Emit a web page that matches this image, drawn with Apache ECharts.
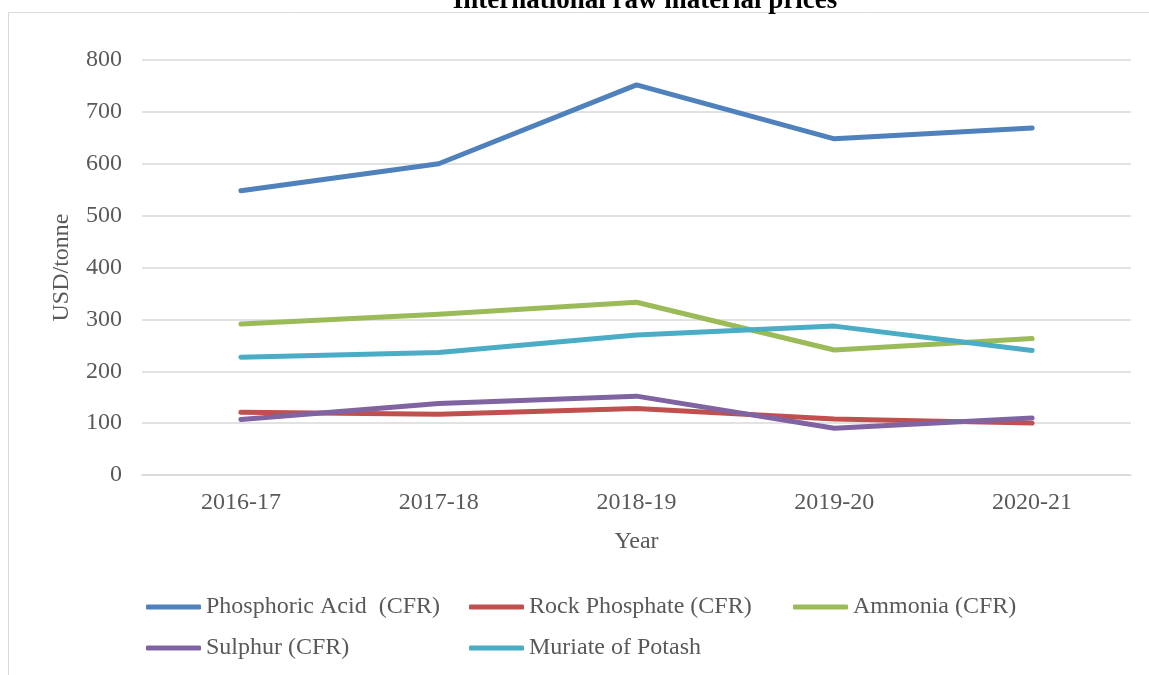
<!DOCTYPE html>
<html>
<head>
<meta charset="utf-8">
<title>International raw material prices</title>
<script src="https://cdn.jsdelivr.net/npm/echarts@6/dist/echarts.min.js"></script>
<style>
  html, body { margin: 0; padding: 0; background: #fff; }
  #chart { width: 1149px; height: 675px; }
</style>
</head>
<body>
<div id="chart"></div>
<script>
// chart data
var years = ['2016-17', '2017-18', '2018-19', '2019-20', '2020-21'];
var phosphoricAcid = [548, 600, 752, 648, 669];
var rockPhosphate = [121, 117, 128, 108, 100];
var ammonia = [291, 310, 333, 241, 263];
var sulphur = [107, 138, 152, 90, 110];
var muriateOfPotash = [227, 236, 270, 287, 240];

var seriesNames = ['Phosphoric Acid  (CFR)', 'Rock Phosphate (CFR)', 'Ammonia (CFR)',
                   'Sulphur (CFR)', 'Muriate of Potash'];
var seriesData = [phosphoricAcid, rockPhosphate, ammonia, sulphur, muriateOfPotash];
var seriesColors = ['#4F81BD', '#C0504D', '#9BBB59', '#8064A2', '#4BACC6'];

// legend slots (left, top) to mimic the two-row layout
var legendSlots = [[146, 593], [469, 593], [793, 593], [146, 634], [469, 634]];

var fontFamily = '"Liberation Serif", "Times New Roman", serif';
var textColor = '#595959';
var lineGray = '#d9d9d9';

var theChart = echarts.init(document.getElementById('chart'));

var series = seriesNames.map(function (name, i) {
  return {
    name: name,
    type: 'line',
    data: seriesData[i],
    symbol: 'none',
    smooth: false,
    color: seriesColors[i],
    lineStyle: { width: 5, color: seriesColors[i], cap: 'round', join: 'round' },
    z: 2 + i
  };
});

var legends = seriesNames.map(function (name, i) {
  return {
    data: [name],
    left: legendSlots[i][0],
    top: legendSlots[i][1],
    padding: 0,
    icon: 'roundRect',
    itemWidth: 55,
    itemHeight: 5,
    selectedMode: false,
    textStyle: { fontFamily: fontFamily, fontSize: 24, color: textColor, lineHeight: 28 }
  };
});

var option = {
  animation: false,
  backgroundColor: '#fff',
  textStyle: { fontFamily: fontFamily },
  // the title is cut off by the top edge in the reference, so draw it as plain text
  graphic: [{
    type: 'rect',
    shape: { x: 8.5, y: 12.5, width: 1200, height: 700 },
    style: { fill: null, stroke: lineGray, lineWidth: 1 },
    silent: true,
    z: -1
  }, {
    type: 'text',
    x: 645,
    y: 15,
    silent: true,
    style: {
      text: 'International raw material prices',
      font: 'bold 27px ' + fontFamily,
      fill: '#000',
      align: 'center',
      verticalAlign: 'bottom'
    }
  }],
  legend: legends,
  grid: { left: 142, right: 18, top: 60, bottom: 200 },
  xAxis: {
    type: 'category',
    data: years,
    boundaryGap: true,
    name: 'Year',
    nameLocation: 'middle',
    nameGap: 55,
    nameTextStyle: { fontFamily: fontFamily, fontSize: 24, color: textColor },
    axisLine: { show: true, lineStyle: { color: lineGray, width: 1.5 } },
    axisTick: { show: false },
    axisLabel: { margin: 16, fontFamily: fontFamily, fontSize: 24, color: textColor }
  },
  yAxis: {
    type: 'value',
    min: 0,
    max: 800,
    interval: 100,
    name: 'USD/tonne',
    nameLocation: 'middle',
    nameGap: 68,
    nameTextStyle: { fontFamily: fontFamily, fontSize: 24, color: textColor },
    axisLine: { show: false },
    axisTick: { show: false },
    axisLabel: { margin: 20, fontFamily: fontFamily, fontSize: 24, color: textColor },
    splitLine: { show: true, lineStyle: { color: lineGray, width: 1.5 } }
  },
  series: series
};

theChart.setOption(option);
</script>
</body>
</html>
